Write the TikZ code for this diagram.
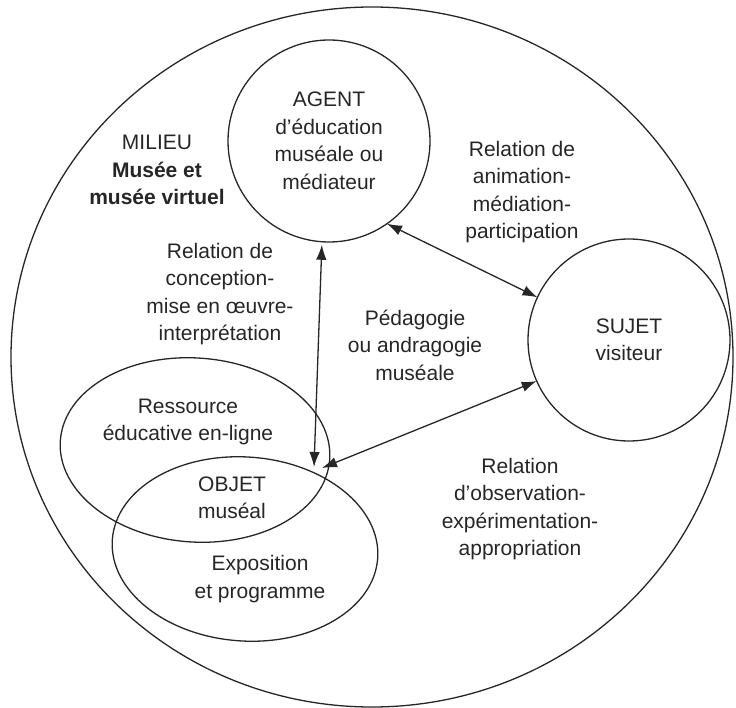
\documentclass[tikz,border=0pt]{standalone}
\usepackage{fontspec}
\setmainfont{Liberation Sans}
\usetikzlibrary{arrows.meta,shapes.geometric}
\tikzset{
  ln/.style={line width=1.3pt, draw=black!85},
  circ/.style={ln, circle, inner sep=0pt, outer sep=0pt, minimum size=#1, align=center},
  ell/.style={ln, ellipse, inner sep=0pt, outer sep=0pt},
  lbl/.style={align=center, inner sep=0pt, font=\fontsize{21}{27.5}\selectfont, text=black!85},
  dbl/.style={ln, {Latex[length=15pt,width=10.5pt]}-{Latex[length=15pt,width=10.5pt]}},
}
\begin{document}
\begin{tikzpicture}[x=1pt,y=-1pt]
\useasboundingbox (0,0) rectangle (736,708);
% outer milieu
\node[ell, minimum width=722pt, minimum height=700pt] (milieu) at (372,357) {};
% ellipses
\node[ell, minimum width=270pt, minimum height=184pt, rotate=-4] (ress) at (195,450) {};
\node[ell, minimum width=266pt, minimum height=184pt, rotate=-4] (expo) at (245,549) {};
% circles
\node[circ=202pt, lbl] (agent) at (329,141) {AGENT\\d'éducation\\muséale ou\\médiateur};
\node[circ=202pt, lbl] (sujet) at (629,340) {SUJET\\visiteur};
% texts
\node[lbl] (milieuT) at (157,170) {MILIEU\\\textbf{Musée et}\\\textbf{musée virtuel}};
\node[lbl] (relAnim) at (522,192) {Relation de\\animation-\\médiation-\\participation};
\node[lbl] (relConc) at (220,294) {Relation de\\conception-\\mise en œuvre-\\interprétation};
\node[lbl] (peda) at (415,345) {Pédagogie\\ou andragogie\\muséale};
\node[lbl] (ressT) at (188,422) {Ressource\\éducative en-ligne};
\node[lbl] (objT) at (232,498) {OBJET\\muséal};
\node[lbl] (expoT) at (260,579) {Exposition\\et programme};
\node[lbl] (relObs) at (520,509) {Relation\\d'observation-\\expérimentation-\\appropriation};
% meeting points at the objet
\coordinate (objA) at (314,467);
\coordinate (objB) at (322,468);
% connectors
\draw[dbl, shorten <=3pt] (agent.-94) -- (objA);
\draw[dbl] (agent.-55) -- (sujet.155);
\draw[dbl] (objB) -- (sujet.204);
\end{tikzpicture}
\end{document}
